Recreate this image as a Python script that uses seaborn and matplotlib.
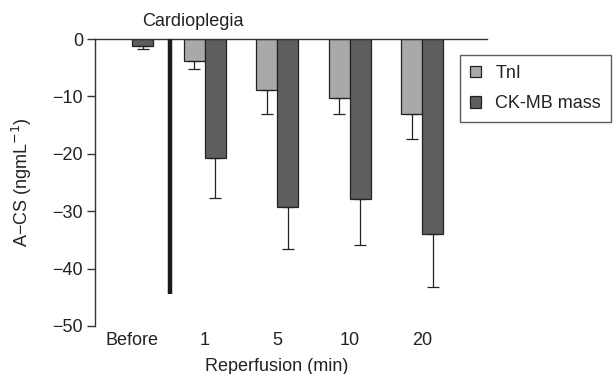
import numpy as np
import pandas as pd
import matplotlib
matplotlib.use("Agg")
import matplotlib.pyplot as plt
import seaborn as sns
from matplotlib.patches import Patch

categories = ["Before", "1", "5", "10", "20"]
series = ["TnI", "CK-MB mass"]
tni_mean = [np.nan, -3.8, -8.9, -10.2, -13.1]
tni_sd = [np.nan, 1.4, 4.2, 2.9, 4.4]
ck_mean = [-1.2, -20.7, -29.2, -27.9, -33.9]
ck_sd = [0.5, 7.0, 7.4, 8.0, 9.3]
yticks = [0, -10, -20, -30, -40, -50]

colors = {"TnI": "#a8a9ac", "CK-MB mass": "#5e5e60"}

df = pd.DataFrame({
    "time": categories * 2,
    "marker": ["TnI"] * len(categories) + ["CK-MB mass"] * len(categories),
    "value": tni_mean + ck_mean,
})

sns.set_style("white")
plt.rcParams["font.family"] = ["Liberation Sans", "DejaVu Sans"]
fs = 13

fig = plt.figure(figsize=(6.13, 3.74), dpi=100)
ax = fig.add_axes([95/613, 1-326/374, (487-95)/613, (326-39)/374])

sns.barplot(data=df, x="time", y="value", hue="marker", order=categories,
            hue_order=series, palette=colors, width=0.58, edgecolor="#222222",
            linewidth=0.9, errorbar=None, ax=ax, legend=False)

sds = {"TnI": tni_sd, "CK-MB mass": ck_sd}
means = {"TnI": tni_mean, "CK-MB mass": ck_mean}
for cont, name in zip(ax.containers, series):
    xs, ys, lo = [], [], []
    for bar in cont.patches:
        xc = bar.get_x() + bar.get_width() / 2
        idx = int(round(xc))
        m, s = means[name][idx], sds[name][idx]
        if np.isnan(m):
            continue
        xs.append(xc)
        ys.append(m)
        lo.append(s)
    ax.errorbar(xs, ys, yerr=[lo, np.zeros(len(lo))], fmt="none",
                ecolor="#222222", elinewidth=0.9, capsize=4, capthick=0.9, zorder=3)

# cardioplegia marker line
ax.plot([0.53, 0.53], [0, -44.4], color="#1a1a1a", lw=3.2, solid_capstyle="butt", zorder=4)
ax.text(0.14, 1.03, "Cardioplegia", transform=ax.get_xaxis_transform(),
        fontsize=fs, color="#222222", ha="left", va="bottom")

ax.set_xlim(-0.51, 4.89)
ax.set_ylim(-50, 0)
ax.set_yticks(yticks)
ax.set_yticklabels([f"{t}".replace("-", "\u2212") for t in yticks],
                   fontsize=fs, color="#222222")
ax.set_xticks(range(len(categories)))
ax.set_xticklabels(categories, fontsize=fs, color="#222222")
ax.tick_params(axis="x", length=0, pad=4)
ax.tick_params(axis="y", length=5.5, width=1, color="#333333", direction="out", pad=3, left=True)

for side in ["right", "bottom"]:
    ax.spines[side].set_visible(False)
for side in ["top", "left"]:
    ax.spines[side].set_visible(True)
    ax.spines[side].set_color("#333333")
    ax.spines[side].set_linewidth(1)

ax.set_xlabel("Reperfusion (min)", fontsize=fs, color="#222222", labelpad=2)
ax.xaxis.set_label_coords((277-95)/(487-95), -0.11)
ax.set_ylabel("A\u2212CS (ngmL$^{-1}$)", fontsize=fs, color="#222222")
ax.yaxis.set_label_coords(-(95-34)/392, 0.5)

handles = [Patch(facecolor=colors[s], edgecolor="#222222", linewidth=0.9) for s in series]
leg = fig.legend(handles, series, loc="upper left", bbox_to_anchor=(460/613, 1-55/374),
                 fontsize=fs, frameon=True, fancybox=False, edgecolor="#333333",
                 handlelength=0.6, handleheight=0.6, handletextpad=0.8,
                 labelspacing=0.75, borderpad=0.55, borderaxespad=0)
leg.get_frame().set_linewidth(1)
for t in leg.get_texts():
    t.set_color("#222222")

fig.savefig("out.png", dpi=100)
